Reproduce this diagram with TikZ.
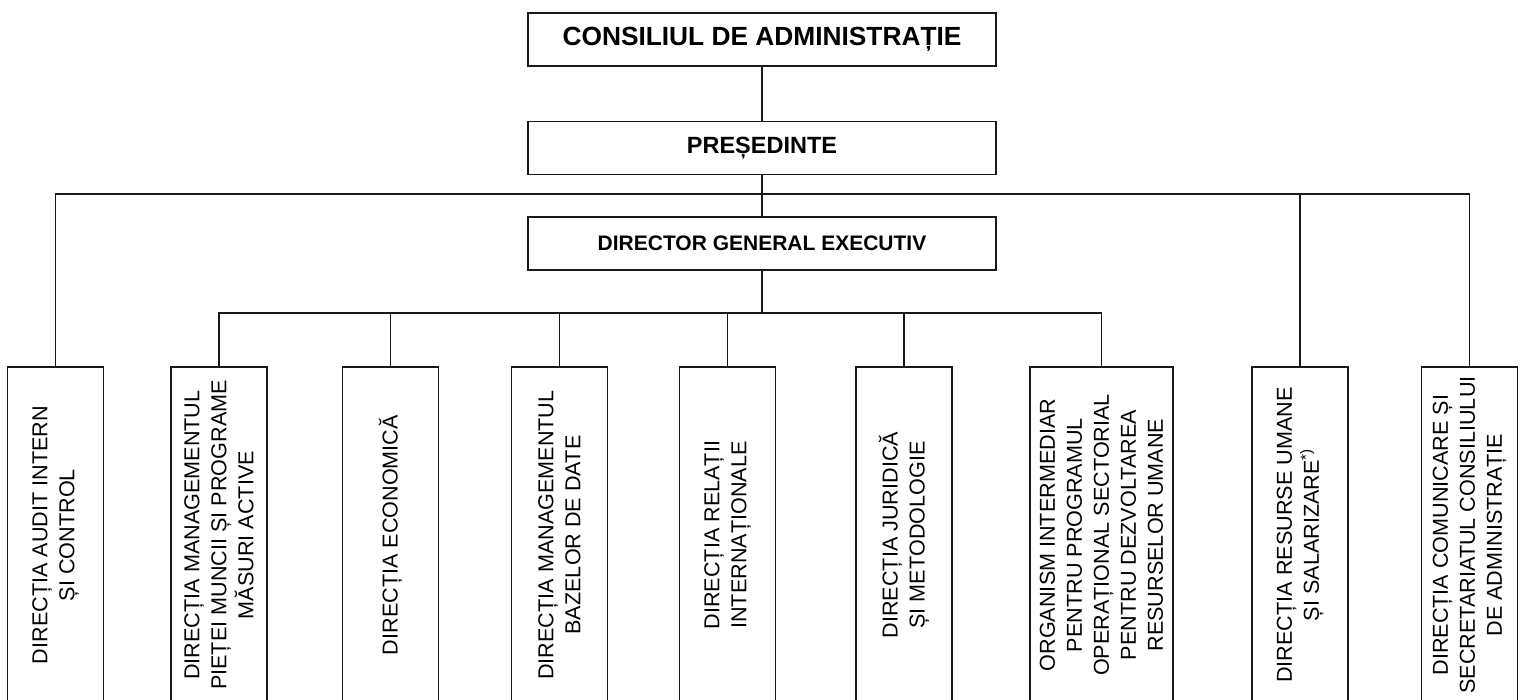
\documentclass[tikz,border=0pt]{standalone}
\usepackage{fontspec}
\setmainfont{Liberation Sans}
\begin{document}
\begin{tikzpicture}[x=1pt,y=-1pt,
  ln/.style={line width=1.3pt, draw=black!90},
  topbox/.style={ln, draw, minimum width=468pt, minimum height=53pt, inner sep=0pt},
  dirbox/.style={ln, draw, rotate=90, minimum width=336pt, minimum height=96pt, inner sep=0pt, align=center,
     font=\fontsize{21.6}{27}\selectfont}]
\useasboundingbox (0,0) rectangle (1521,700);
\clip (0,0) rectangle (1521,700);
\fill[white] (0,0) rectangle (1521,700);

\node[topbox, font=\bfseries\fontsize{26.3}{30}\selectfont] (cons) at (762,39.5) {CONSILIUL DE ADMINISTRAȚIE};
\node[topbox, font=\bfseries\fontsize{23.5}{28}\selectfont] (pres) at (762,148) {PREȘEDINTE};
\node[topbox, font=\bfseries\fontsize{21}{25}\selectfont] (dge) at (762,243.5) {DIRECTOR GENERAL EXECUTIV};

\node[dirbox] (b1) at (55.5,535) {DIRECȚIA AUDIT INTERN\\ȘI CONTROL};
\node[dirbox] (b2) at (219,535) {DIRECȚIA MANAGEMENTUL\\PIEȚEI MUNCII ȘI PROGRAME\\MĂSURI ACTIVE};
\node[dirbox] (b3) at (390.5,535) {DIRECȚIA ECONOMICĂ};
\node[dirbox] (b4) at (559.5,535) {DIRECȚIA MANAGEMENTUL\\BAZELOR DE DATE};
\node[dirbox] (b5) at (727.5,535) {DIRECȚIA RELAȚII\\INTERNAȚIONALE};
\node[dirbox] (b6) at (904,535) {DIRECȚIA JURIDICĂ\\ȘI METODOLOGIE};
\node[dirbox, minimum height=143pt] (b7) at (1101.5,535) {ORGANISM INTERMEDIAR\\PENTRU PROGRAMUL\\OPERAȚIONAL SECTORIAL\\PENTRU DEZVOLTAREA\\RESURSELOR UMANE};
\node[dirbox] (b8) at (1300,535) {DIRECȚIA RESURSE UMANE\\ȘI SALARIZARE\textsuperscript{*)}};
\node[dirbox] (b9) at (1469.5,535) {DIRECȚIA COMUNICARE ȘI\\SECRETARIATUL CONSILIULUI\\DE ADMINISTRAȚIE};

\coordinate (t1) at (762,194);
\coordinate (t2) at (762,313);

\draw[ln] (cons) -- (pres);
\draw[ln] (pres) -- (dge);
\draw[ln] (b1.east) -- (b1.east |- t1) -- (b9.east |- t1) -- (b9.east);
\draw[ln] (b8.east) -- (b8.east |- t1);
\draw[ln] (dge) -- (t2);
\draw[ln] (b2.east) -- (b2.east |- t2) -- (b7.east |- t2) -- (b7.east);
\foreach \b in {b3,b4,b5,b6} \draw[ln] (\b.east) -- (\b.east |- t2);
\end{tikzpicture}
\end{document}
